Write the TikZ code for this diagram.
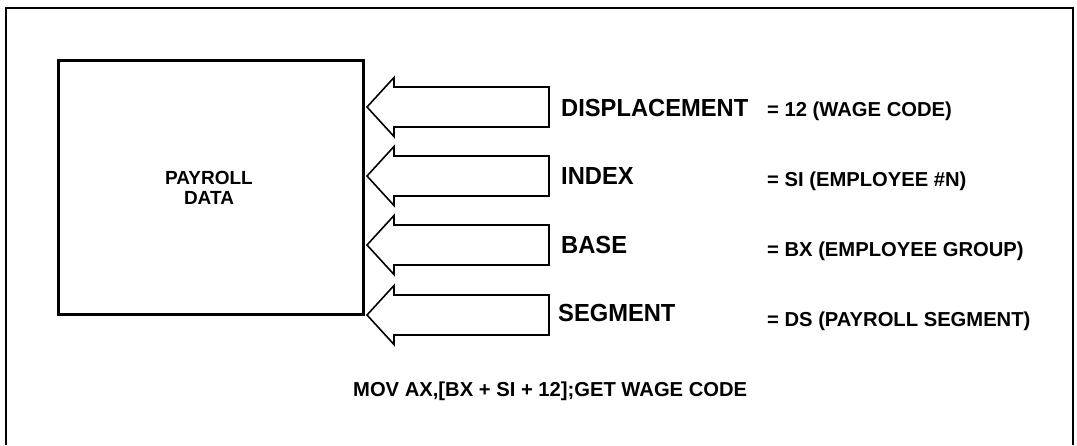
\documentclass[tikz,border=0pt]{standalone}
\usepackage{fontspec}
\setmainfont{Liberation Sans}
\newfontfamily\regfont[FakeStretch=0.96]{Liberation Sans}
\begin{document}
\begin{tikzpicture}[x=1pt,y=-1pt,
  frame/.style={draw, line width=1.6pt},
  databox/.style={draw, line width=3pt, minimum width=305pt, minimum height=254pt, inner sep=0pt},
  blockarrow/.style={draw, line width=1.6pt, line join=miter},
  reglabel/.style={anchor=base west, inner sep=0pt, font=\regfont\fontsize{24.7}{24.7}\selectfont\bfseries},
  vallabel/.style={anchor=base west, inner sep=0pt, font=\fontsize{20.2}{20.2}\selectfont\bfseries},
  boxlabel/.style={align=center, inner sep=0pt, font=\fontsize{19}{19.3}\selectfont\bfseries}]
\useasboundingbox (0,0) rectangle (1077,445);
\draw[frame] (6,445) -- (6,8) -- (1073,8) -- (1073,445);
\node[databox] (box) at (210.5,187) {};
\node[boxlabel] (pd) at (209,188) {PAYROLL\\DATA};
\foreach \y/\n in {107/a,176/b,245/c,315/d}{
  \draw[blockarrow] (549,\y-20) -- (394,\y-20) -- (394,\y-29.5) -- (367,\y) -- (394,\y+29.5) -- (394,\y+20) -- (549,\y+20) -- cycle;
}
\node[reglabel] (disp) at (561,116) {DISPLACEMENT};
\node[reglabel] (idx) at (561,184) {INDEX};
\node[reglabel] (base) at (561,253) {BASE};
\node[reglabel] (seg) at (558,321) {SEGMENT};
\node[vallabel] (v1) at (767,116.5) {= 12 (WAGE CODE)};
\node[vallabel] (v2) at (767,186) {= SI (EMPLOYEE \#N)};
\node[vallabel] (v3) at (767,256) {= BX (EMPLOYEE GROUP)};
\node[vallabel] (v4) at (767,326) {= DS (PAYROLL SEGMENT)};
\node[vallabel] (mov) at (353,396.5) {MOV AX,[BX + SI + 12];GET WAGE CODE};
\end{tikzpicture}
\end{document}
